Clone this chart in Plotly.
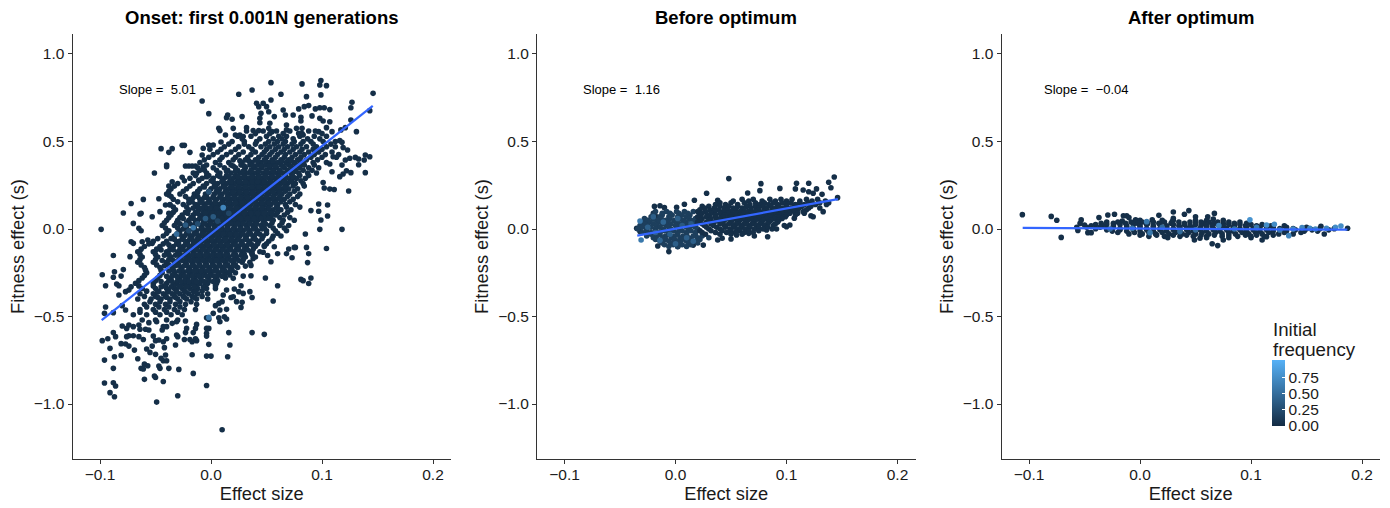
import plotly.graph_objects as go

W, H = 1390, 508

panel_titles = ["Onset: first 0.001N generations", "Before optimum", "After optimum"]
slope_labels = ["Slope =\u00a0\u00a05.01", "Slope =\u00a0\u00a01.16", "Slope =\u00a0\u00a0\u22120.04"]
x_ticks = [-0.1, 0.0, 0.1, 0.2]
y_ticks = [-1.0, -0.5, 0.0, 0.5, 1.0]
legend_ticks = [0.0, 0.25, 0.5, 0.75]
legend_title_lines = ["Initial", "frequency"]
fit_x = [[-0.0985, 0.1457], [-0.0345, 0.1463], [-0.1057, 0.1868]]
fit_y = [[-0.52, 0.703], [-0.038, 0.171], [0.006, -0.004]]

# ---- Onset panel
onset_scatter = [
(-.099,-.002),(-.079,.091),(-.072,.146),(-.061,.169),(-.047,.173),(-.051,.32),(-.045,.459),(-.038,.438),(-.035,.459),(-.04,.366),(-.04,.356),(-.026,.478),(-.024,.478),(-.019,.438),(-.008,.731),(-.002,.659),(.025,.77),(.037,.794),(.054,.836),(.082,.829),(.099,.848),(.098,.823),(.104,.819),(.146,.775),(.063,.77),(.054,.737),(.086,.756),(.099,.766),(.127,.724),(.126,.693),(.143,.676),(.041,.718),(.043,.699),(.047,.718),(.05,.699),(.052,.67),(.045,.661),(.044,.632),(.044,.607),(.015,.651),(.014,.636),(.019,.627),(.028,.642),(.084,.699),(.088,.705),(.094,.686),(.098,.693),(.102,.693),(.107,.682),(.079,.686),(.065,.68),(.067,.651),(.074,.651),(.081,.638),(.091,.646),(.098,.632),(.107,.613),(.101,.617),(.081,.617),(.057,.642),(.126,.623),(.121,.579),(.131,.556),(.117,.566),
(.116,.505),(.118,.495),(.119,.465),(.123,.451),(.121,.394),(.125,.404),(.13,.409),(.133,.4),(.139,.423),(.143,.413),(.138,.394),(.133,.367),(.139,.322),(.118,.365),(.122,.333),(.126,.322),(.116,.299),(.119,.314),(.107,.371),(.11,.413),(.112,.47),(.109,.327),(.101,.265),(.102,.234),(.107,.228),(.111,.226),(.124,.217),(.097,.143),(.105,.137),(.097,.101),(.09,.105),(.099,.051),(.105,.074),(.118,-.002),(.085,-.029),(.098,-.002),(.104,-.111),(.086,-.105),(.076,-.105),
(-.064,.086),(-.063,.09),(-.07,.032),(-.065,.004),(-.063,-.01),(-.072,-.073),(-.07,-.082),(-.062,-.073),(-.057,-.063),(-.053,-.082),(-.053,.07),(-.046,.099),(-.038,.09),(-.041,.137),(-.037,.137),(-.038,.194),(-.038,.246),(-.035,.27),(-.026,.295),(-.023,.36),(-.02,.36),(-.017,.36),(-.014,.36),(-.013,.318),(-.011,.28),(-.007,.356),(-.006,.337),(-.004,.299),(-.008,.423),(-.007,.461),(-.002,.48),(.002,.48),(-.001,.455),(.009,.497),(.007,.575),(.008,.562),(.013,.537),(.02,.575),(.022,.537),(.032,.579),(.026,.537),(.029,.528),(.038,.562),(.043,.562),(.053,.604),(.052,.575),(.055,.556),(.068,.594),(.068,.566),(.077,.575),(.082,.575),(.079,.546),(.083,.537),(.097,.556),(.104,.579),(.109,.556),
(-.088,-.151),(-.073,-.158),(-.098,-.261),(-.087,-.244),(-.079,-.232),(-.088,-.276),(-.081,-.269),(-.095,-.324),(-.085,-.314),(-.083,-.324),(-.083,-.377),(-.077,-.358),(-.074,-.349),(-.072,-.33),(-.095,-.446),(-.096,-.482),(-.08,-.438),(-.077,-.463),(-.088,-.478),(-.08,-.554),(-.088,-.591),(-.086,-.615),(-.093,-.627),(-.098,-.638),(-.091,-.682),(-.081,-.655),(-.077,-.657),(-.074,-.669),(-.087,-.73),(-.081,-.722),(-.096,-.749),(-.088,-.796),(-.096,-.88),(-.088,-.878),(-.086,-.897),(-.091,-.935),(-.087,-.958),(-.049,-.989),(-.03,-.953),(-.004,-.894),(.01,-1.147),(-.043,-.871),(-.06,-.859),(-.051,-.84),(-.05,-.848),(-.016,-.825),(-.029,-.802),(-.038,-.796),(-.047,-.783),(-.046,-.796),(-.063,-.796),(-.061,-.8),(-.06,-.772),(-.057,-.781),(-.066,-.741),(-.045,-.739),(-.043,-.753),(-.04,-.753),(-.041,-.72),(-.05,-.716),(-.055,-.705),(-.058,-.686),(-.069,-.692),(-.042,-.678),(-.053,-.669),(-.032,-.663),(-.017,-.718),(-.004,-.726),(0,-.726),(.015,-.73),(-.002,-.659),(.017,-.663),(.016,-.592),(-.004,-.596),(-.004,-.612),(.037,-.592),(.048,-.602),(-.024,-.631),(-.019,-.631),(-.017,-.644),(-.013,-.638),(-.014,-.627),(-.031,-.606),(-.03,-.615),(-.04,-.627),(-.043,-.644),(-.047,-.634),(-.05,-.638),(-.052,-.612),(-.061,-.631),(-.065,-.615),(-.07,-.61),(-.074,-.61),(-.076,-.615),(-.056,-.577),(-.059,-.573),(-.064,-.573),(-.065,-.549),(-.07,-.558),(-.074,-.549),(-.076,-.568),(-.023,-.592),(-.022,-.568),(-.016,-.592),(-.014,-.568),(-.013,-.545),(-.004,-.568),(-.002,-.568),(-.035,-.539),(-.04,-.558),(-.044,-.577),(-.043,-.558),(-.049,-.53),(-.056,-.535),(-.023,-.526),(-.031,-.53),(-.004,-.507),(-.002,-.516),(.008,-.53),(.007,-.507),(.012,-.501),(.014,-.514),(.002,-.482),(.008,-.463),(.014,-.459),(.004,-.438),(.007,-.425),(.01,-.415),(.011,-.377),(.014,-.349),(.021,-.343),(.018,-.391),(.02,-.387),(.025,-.358),(.029,-.368),(.035,-.358),(.037,-.391),(.023,-.415),(.028,-.419),(.027,-.448),(.056,-.411),(.06,-.324),(.027,-.324),(.049,-.28),(.036,-.267),(.029,-.269),(.031,-.212),(.036,-.208),(.054,-.187),(.087,-.192),(.081,-.288),(.083,-.295),(.09,-.28),(.088,-.311),(.073,-.164),(.068,-.141),(.06,-.141),(.051,-.151),(.047,-.133),(.088,-.141),(.075,-.105),(.07,-.114),(.057,-.101),(.048,-.095),(.037,-.139),(.038,-.168),(.02,-.282),(.017,-.263),
]
onset_core_y = [.56,.53,.50,.47,.44,.41,.38,.35,.32,.29,.26,.23,.20,.17,.14,.11,.08,.05,.02,-.01,-.04,-.07,-.10,-.13,-.16,-.19,-.22,-.25,-.28,-.31,-.34,-.37,-.40,-.43,-.46,-.49,-.52]
onset_core_x = [
[.032,.047,.059,.071,.088,.094],
[.024,.036,.05,.061,.068,.08,.093,.104],
[.019,.03,.041,.052,.06,.067,.075,.083,.09,.101,.112],
[.012,.025,.034,.045,.053,.061,.069,.077,.086,.095,.104],
[.006,.018,.029,.04,.048,.055,.063,.071,.08,.088,.097,.109],
[-.002,.01,.022,.033,.043,.05,.058,.066,.073,.081,.09,.1,.113],
[-.01,.004,.016,.028,.037,.045,.052,.06,.068,.075,.083,.092,.104],
[-.012,.002,.012,.022,.031,.039,.046,.053,.059,.066,.073,.08,.088,.097],
[-.016,-.004,.008,.018,.026,.033,.04,.047,.053,.059,.065,.072,.079,.087,.095],
[-.019,-.008,.002,.012,.02,.027,.034,.04,.046,.052,.058,.064,.07,.077,.085],
[-.03,-.016,-.004,.006,.014,.021,.028,.034,.04,.045,.051,.057,.063,.069,.076,.083],
[-.036,-.022,-.01,0,.008,.016,.022,.028,.034,.04,.046,.052,.058,.064,.07,.078],
[-.04,-.028,-.015,-.005,.003,.01,.017,.023,.029,.035,.04,.046,.052,.058,.064,.071,.08],
[-.034,-.02,-.01,-.002,.005,.012,.018,.024,.03,.035,.041,.047,.053,.059,.066,.074],
[-.037,-.025,-.014,-.006,.001,.007,.013,.019,.025,.03,.036,.042,.048,.054,.06,.067,.076],
[-.032,-.02,-.011,-.004,.002,.008,.014,.02,.026,.031,.037,.043,.049,.056,.063,.072],
[-.036,-.026,-.016,-.008,-.002,.004,.01,.016,.021,.027,.033,.039,.045,.051,.058,.066],
[-.04,-.03,-.02,-.012,-.005,.001,.007,.013,.018,.024,.03,.036,.042,.048,.056,.065,.075],
[-.044,-.033,-.024,-.016,-.009,-.003,.003,.009,.015,.021,.026,.032,.038,.045,.053,.062,.07],
[-.038,-.028,-.02,-.013,-.006,0,.006,.012,.017,.023,.029,.035,.042,.05,.058,.068],
[-.043,-.033,-.024,-.017,-.01,-.004,.002,.008,.014,.02,.026,.032,.039,.047,.056,.063],
[-.052,-.04,-.029,-.021,-.014,-.008,-.002,.004,.01,.016,.022,.028,.035,.043,.052],
[-.06,-.046,-.034,-.025,-.018,-.012,-.006,0,.006,.012,.018,.025,.032,.04,.048],
[-.066,-.052,-.04,-.03,-.022,-.016,-.01,-.004,.002,.008,.014,.021,.028,.036,.044],
[-.062,-.048,-.036,-.027,-.02,-.014,-.008,-.002,.004,.01,.016,.023,.031,.04],
[-.066,-.052,-.04,-.03,-.023,-.017,-.011,-.005,.001,.007,.013,.02,.028,.035],
[-.06,-.046,-.035,-.027,-.02,-.014,-.008,-.002,.004,.01,.017,.024],
[-.058,-.044,-.033,-.025,-.018,-.012,-.006,0,.007,.014,.022],
[-.062,-.048,-.036,-.028,-.021,-.015,-.009,-.002,.005,.013],
[-.068,-.052,-.04,-.031,-.024,-.017,-.01,-.003,.005],
[-.062,-.05,-.04,-.033,-.026,-.019,-.012,-.004,.004],
[-.064,-.052,-.043,-.035,-.028,-.02,-.012,-.003],
[-.066,-.054,-.045,-.037,-.03,-.022,-.013,-.003],
[-.06,-.05,-.041,-.032,-.023,-.013],
[-.064,-.052,-.042,-.033,-.024,-.014],
[-.07,-.058,-.046,-.036,-.026],
[-.062,-.05,-.04,-.03],
]
onset_fill_y = [.545,.515,.485,.455,.425,.395,.365,.335,.305,.275,.245,.215,.185,.155,.125,.095,.065,.035,.005,-.025,-.055,-.085,-.115,-.145,-.175,-.205,-.235,-.265,-.295,-.325,-.355,-.385,-.415,-.445,-.475]
onset_fill_x = [
[.04,.053,.065,.082,.1],
[.028,.044,.056,.064,.074,.087,.098],
[.016,.03,.04,.049,.057,.065,.073,.081,.092,.108],
[.009,.022,.037,.05,.058,.066,.074,.082,.092,.1],
[.002,.014,.025,.036,.046,.053,.06,.067,.076,.084,.093,.103,.115],
[-.006,.008,.02,.031,.04,.048,.055,.063,.07,.078,.086,.096],
[-.004,.008,.018,.027,.035,.042,.049,.056,.063,.07,.077,.084,.093],
[-.01,.005,.015,.024,.03,.036,.043,.05,.056,.062,.069,.076,.083,.091],
[-.014,-.002,.006,.014,.022,.03,.037,.043,.049,.055,.061,.067,.073,.08,.088],
[-.024,-.011,0,.01,.017,.024,.031,.037,.043,.048,.054,.06,.066,.073,.081],
[-.033,-.019,-.007,.003,.011,.018,.025,.031,.037,.042,.048,.054,.06,.067,.074,.084],
[-.038,-.025,-.012,-.002,.005,.013,.019,.025,.031,.037,.043,.049,.055,.061,.067,.075],
[-.036,-.023,-.012,-.004,.002,.008,.015,.021,.027,.032,.038,.044,.05,.056,.062,.069,.078],
[-.03,-.017,-.008,-.001,.004,.01,.016,.022,.027,.033,.039,.045,.051,.057,.063,.071],
[-.034,-.022,-.012,-.005,.001,.005,.011,.017,.023,.028,.034,.04,.046,.052,.059,.068,.08],
[-.034,-.023,-.014,-.007,-.001,.005,.011,.017,.023,.029,.035,.04,.046,.053,.06,.069],
[-.038,-.028,-.018,-.01,-.004,.002,.007,.013,.019,.024,.03,.036,.042,.048,.054,.062,.071],
[-.042,-.031,-.022,-.014,-.007,-.001,.005,.011,.016,.022,.028,.034,.04,.047,.055,.064],
[-.041,-.03,-.022,-.015,-.008,-.002,.004,.01,.015,.021,.027,.033,.04,.048,.056,.066],
[-.04,-.03,-.022,-.015,-.008,-.002,.003,.009,.015,.021,.027,.034,.041,.05,.06],
[-.048,-.036,-.026,-.019,-.012,-.006,0,.006,.012,.018,.024,.031,.038,.046,.055],
[-.056,-.043,-.031,-.023,-.016,-.01,-.004,.002,.008,.014,.02,.027,.034,.042,.05],
[-.063,-.049,-.037,-.028,-.02,-.014,-.008,-.002,.004,.01,.016,.023,.03,.038],
[-.064,-.05,-.038,-.028,-.021,-.015,-.009,-.003,.003,.009,.015,.022,.03,.037],
[-.064,-.05,-.038,-.029,-.022,-.016,-.01,-.004,.002,.008,.014,.021,.029],
[-.063,-.049,-.038,-.029,-.022,-.016,-.01,-.004,.002,.008,.015,.022],
[-.059,-.045,-.034,-.026,-.019,-.013,-.007,-.001,.005,.012,.019],
[-.06,-.046,-.035,-.027,-.02,-.014,-.008,-.001,.006,.012],
[-.065,-.05,-.038,-.03,-.023,-.016,-.009,-.002,.006],
[-.065,-.052,-.042,-.034,-.027,-.02,-.013,-.005,.004],
[-.058,-.047,-.038,-.031,-.024,-.016,-.008],
[-.06,-.05,-.041,-.033,-.025,-.017,-.008],
[-.055,-.046,-.037,-.028,-.018],
[-.058,-.047,-.038,-.028],
[-.064,-.05,-.04,-.03],
]
onset_center_y = [.39,.36,.33,.30,.27,.24,.21,.18,.15,.12,.09,.06,.03,0,-.03,-.06,-.09,-.12,-.15,-.18,-.21,-.24,-.27,-.30,-.33,-.36,-.39]
onset_center_x = [
[.026,.034,.042,.049,.056,.064,.072,.08],
[.02,.03,.038,.045,.052,.058,.065,.072,.08],
[.014,.022,.029,.036,.043,.05,.056,.062,.069,.076],
[.008,.016,.024,.03,.037,.043,.049,.055,.061,.067,.074],
[.002,.01,.018,.025,.031,.037,.042,.048,.054,.06,.066,.072],
[-.006,.004,.012,.019,.025,.031,.037,.043,.049,.055,.061,.067],
[-.012,-.002,.007,.014,.02,.026,.032,.038,.044,.05,.056,.062],
[-.016,-.006,.002,.009,.015,.021,.027,.033,.039,.045,.05,.056,.062],
[-.02,-.01,-.003,.004,.01,.016,.022,.028,.034,.04,.046,.052,.058],
[-.016,-.008,-.001,.005,.011,.017,.023,.029,.034,.04,.046,.052,.06],
[-.021,-.012,-.005,.001,.007,.013,.019,.024,.03,.036,.042,.048,.055],
[-.025,-.016,-.008,-.002,.004,.01,.016,.021,.027,.033,.039,.045,.052],
[-.028,-.019,-.012,-.006,0,.006,.012,.018,.024,.029,.035,.041,.049],
[-.025,-.016,-.009,-.003,.003,.009,.015,.02,.026,.032,.038,.046],
[-.028,-.02,-.013,-.007,-.001,.005,.011,.017,.023,.029,.036,.044],
[-.033,-.025,-.017,-.011,-.005,.001,.007,.013,.019,.025,.032,.04],
[-.038,-.029,-.021,-.015,-.009,-.003,.003,.009,.015,.022,.029,.037],
[-.045,-.034,-.025,-.019,-.013,-.007,-.001,.005,.011,.018,.025,.033],
[-.042,-.032,-.024,-.017,-.011,-.005,.001,.007,.013,.02,.027],
[-.044,-.034,-.026,-.019,-.013,-.007,-.001,.005,.011,.018,.025],
[-.042,-.032,-.024,-.017,-.011,-.005,.001,.007,.013,.02],
[-.038,-.029,-.021,-.015,-.009,-.003,.003,.01,.017],
[-.04,-.031,-.024,-.017,-.011,-.004,.003,.01],
[-.045,-.035,-.027,-.02,-.013,-.006,.002],
[-.045,-.036,-.029,-.022,-.015,-.007],
[-.048,-.039,-.031,-.023,-.014],
[-.048,-.04,-.032,-.024,-.015],
]
onset_bright = [(-.016,.007,.6),(-.031,-.029,.5),(.011,.122,.7),(.002,.07,.35),(-.005,.06,.35),(-.023,.023,.35),(-.002,.213,.3),(-.002,-.505,.6),(-.012,.03,.25),(.006,.045,.2),(.016,.09,.2),(-.02,-.01,.2)]

# ---- Before-optimum panel
before_scatter = [
(.048,.288),(.077,.259),(.109,.261),(.12,.261),(.138,.267),(.143,.297),(.14,.236),(.028,.204),(.017,.164),(.038,.164),(.008,.141),(.024,.129),(.065,.206),(.076,.219),(.094,.232),(.108,.229),(.115,.223),(.12,.213),(.127,.229),(.124,.204),(.132,.198),(.146,.179),(.138,.15),(.133,.099),(.122,.076),(.124,.07),(.116,.09),(.107,.061),(.103,.023),(.1,.013),(.091,0),(.082,-.006),(.083,-.044),(.071,-.04),(.066,-.025),(.055,-.034),(.05,-.057),(.042,-.053),(.038,-.063),(.025,-.092),(.016,-.092),(-.006,-.129),(-.016,-.097),(.002,-.101),(-.035,.004),(-.027,.051),(-.032,-.015),(-.019,.129),(-.014,.133),(-.01,.122),(.001,.124),(-.02,.089),(-.017,.07),
]
before_dark_y = [.17,.16,.15,.14,.13,.12,.11,.10,.09,.08,.07,.06,.05,.04,.03,.02,.01,0,-.01,-.02,-.03]
before_dark_x = [
[.06,.07,.085,.095,.105,.118,.128],
[.052,.066,.078,.09,.1,.112,.123,.135],
[.04,.05,.062,.072,.08,.088,.096,.104,.112,.12,.13],
[.036,.045,.056,.067,.076,.084,.092,.1,.108,.116,.126,.136],
[.03,.04,.048,.056,.064,.072,.079,.086,.093,.1,.107,.114,.122],
[.026,.035,.044,.052,.06,.068,.075,.082,.09,.097,.104,.111,.12,.13],
[.022,.031,.039,.047,.054,.061,.068,.075,.082,.089,.096,.103,.11,.118],
[.02,.027,.035,.043,.05,.058,.065,.072,.079,.086,.093,.1,.107,.115],
[.024,.032,.04,.047,.054,.061,.068,.075,.082,.089,.096,.103,.11],
[.022,.029,.036,.044,.051,.058,.065,.072,.079,.086,.093,.1,.108],
[.02,.028,.036,.043,.05,.057,.064,.071,.078,.085,.092,.099],
[.024,.032,.04,.047,.054,.061,.068,.075,.082,.089,.096],
[.022,.03,.037,.044,.051,.058,.065,.072,.079,.086,.093],
[.02,.028,.035,.042,.05,.056,.063,.07,.077,.084,.092],
[.024,.032,.04,.048,.055,.062,.069,.076,.083,.09],
[.026,.034,.044,.052,.059,.066,.073,.08,.088,.098],
[.028,.037,.045,.053,.06,.067,.075,.083],
[.03,.04,.049,.056,.063,.071,.079,.087],
[.022,.032,.042,.05,.058,.066,.075],
[.024,.036,.046,.054,.062,.07],
[.027,.04,.05,.06],
]
before_mid_y = [.10,.09,.08,.07,.06,.05,.04,.03,.02,.01,0,-.01,-.02,-.03,-.04,-.05,-.06,-.07,-.08,-.09,-.10]
before_mid_x = [
[-.018,-.008,.001,.008,.016],
[-.012,-.005,.003,.011],
[-.02,-.012,-.003,.006,.013],
[-.022,-.014,-.006,.002,.01],
[-.028,-.02,-.013,-.005,.004,.012,.018],
[-.025,-.017,-.009,-.001,.007,.014],
[-.03,-.023,-.015,-.007,.001,.009,.016],
[-.028,-.02,-.012,-.004,.004,.011,.018],
[-.032,-.025,-.017,-.008,0,.008,.015],
[-.03,-.022,-.014,-.006,.002,.01,.018],
[-.034,-.026,-.018,-.011,-.004,.004,.012,.02],
[-.026,-.018,-.01,-.002,.006,.014],
[-.03,-.022,-.014,-.006,.002,.01,.018],
[-.022,-.014,-.006,.002,.01,.018],
[-.026,-.017,-.009,-.001,.007,.016,.024],
[-.02,-.012,-.004,.004,.012,.02,.03],
[-.018,-.009,-.001,.006,.014,.022],
[-.014,-.006,.002,.01,.018],
[-.012,-.004,.004,.012,.02],
[-.01,-.002,.006,.014],
[-.006,.002,.01],
]
before_bright = [(-.032,.046,.6),(-.031,-.063,.6),(-.011,.04,.45),(-.018,-.02,.4),(.002,.06,.4),(.01,-.05,.4),(.006,.02,.35),(-.005,-.03,.4),(.014,.03,.35),(-.025,.01,.4),(-.02,.07,.4),(.016,-.07,.4),(-.014,-.065,.45),(.0,-.085,.4)]

# ---- After-optimum panel
after_scatter = [
(-.106,.082),(-.08,.072),(-.075,.05),(-.071,-.048),(-.057,.01),(-.056,-.008),(-.053,.052),(-.054,.032),(-.05,.023),(-.047,-.021),(-.044,-.021),(-.037,.065),(-.029,.08),(-.023,.084),(-.015,.076),(-.012,.076),(-.01,.065),(-.016,.046),(-.004,.052),(-.004,.038),(.017,.078),(.03,.097),(.044,.105),(.04,.084),(.067,.089),(.05,.07),(.061,.07),(.066,.057),(.03,.061),(.029,.042),(.011,.052),(.065,-.084),(.07,-.095),(.049,-.063),(.054,-.053),(.075,-.063),(.11,-.063),(.114,-.044),(.166,-.029),(.163,.015),(.187,.004),
]
after_dark_y = [.05,.04,.033,.025,.018,.01,.002,-.005,-.012,-.02,-.028,-.035,-.042,-.05]
after_dark_x = [
[0,.02,.03,.05,.06,.075],
[-.03,-.02,-.008,.002,.012,.022,.035,.045,.055,.062,.07,.08,.09],
[-.035,-.024,-.013,-.002,.007,.017,.028,.04,.05,.058,.066,.075,.085,.096],
[-.04,-.03,-.018,-.006,.006,.018,.03,.04,.05,.06,.07,.08,.09,.1,.11],
[-.044,-.034,-.024,-.012,0,.012,.024,.035,.045,.055,.065,.075,.085,.095,.105,.118,.13],
[-.048,-.036,-.024,-.012,0,.012,.024,.036,.048,.06,.072,.084,.096,.108,.12,.132,.15],
[-.04,-.03,-.018,-.006,.006,.018,.03,.042,.054,.066,.078,.09,.102,.114,.126,.138,.15,.162,.175],
[-.03,-.018,-.006,.006,.018,.03,.042,.054,.066,.078,.09,.102,.114,.126,.14,.155,.17],
[-.025,-.012,0,.012,.024,.036,.048,.06,.072,.084,.096,.108,.12,.132,.148,.16],
[-.02,-.005,.008,.02,.032,.044,.056,.068,.08,.092,.104,.116,.13,.145],
[-.01,.002,.014,.026,.038,.05,.062,.074,.086,.098,.11,.125,.138],
[0,.015,.03,.042,.055,.067,.08,.095,.105,.12],
[.008,.022,.036,.048,.06,.074,.088,.1,.112],
[.025,.06,.08,.1],
]
after_bright = [(.099,.053,.8),(.006,.042,.6),(.009,-.021,.6),(.071,.019,.7),(.114,.023,.75),(.121,.027,.75),(.105,.009,.6),(.126,-.006,.6),(.134,-.038,.7),(.146,.008,.7),(.153,.004,.7),(.158,0,.7),(.168,.004,.7),(.176,.009,.75),(.181,.017,.75),(.138,0,.7),(-.027,0,.5),(-.007,.004,.55),(.036,-.015,.5),(.02,.01,.5),(.05,-.005,.5),(.085,0,.55)]

DARK_F, MID_F = 0.03, 0.15


def rows(ys, xss):
    return [(x, y) for y, xs in zip(ys, xss) for x in xs]


def assemble(groups):
    xs, ys, fs = [], [], []
    for pts, f in groups:
        for p in pts:
            xs.append(p[0])
            ys.append(p[1])
            fs.append(p[2] if len(p) == 3 else f)
    return xs, ys, fs


panels = [
    assemble([(onset_scatter, DARK_F), (rows(onset_core_y, onset_core_x), DARK_F), (rows(onset_fill_y, onset_fill_x), DARK_F), (rows(onset_center_y, onset_center_x), DARK_F), (onset_bright, None)]),
    assemble([(before_scatter, DARK_F), (rows(before_mid_y, before_mid_x), MID_F), (before_bright, None), (rows(before_dark_y, before_dark_x), DARK_F)]),
    assemble([(after_scatter, DARK_F), (rows(after_dark_y, after_dark_x), DARK_F), (after_bright, None)]),
]

fig = go.Figure()
INK = "#1a1a1a"
AXIS = "#333333"
lefts = [72.5, 537, 1001.5]
RIGHT_LEN = 378.5
X_RANGE = [-0.1248, 0.2162]
Y_RANGE = [-1.314, 1.114]

annotations = []
for i, (xs, ys, fs) in enumerate(panels):
    n = "" if i == 0 else str(i + 1)
    fig.add_trace(go.Scatter(x=xs, y=ys, mode="markers", xaxis="x" + n, yaxis="y" + n, showlegend=False,
                             marker=dict(size=5.6, color=fs, coloraxis="coloraxis", line=dict(width=0))))
    fig.add_trace(go.Scatter(x=fit_x[i], y=fit_y[i], mode="lines", xaxis="x" + n, yaxis="y" + n, showlegend=False,
                             line=dict(color="#3366FF", width=2.2)))
    common = dict(showline=True, linecolor=AXIS, linewidth=1, ticks="outside", ticklen=4, tickcolor=AXIS,
                  tickwidth=1, showgrid=False, zeroline=False, tickformat=".1f",
                  tickfont=dict(family="Liberation Sans", size=15.5, color=INK), automargin=False)
    fig.update_layout({
        "xaxis" + n: dict(common, domain=[lefts[i] / W, (lefts[i] + RIGHT_LEN) / W], range=X_RANGE,
                          tickvals=x_ticks, anchor="y" + n, ticklabelstandoff=-3,
                          title=dict(text="Effect size", standoff=3,
                                     font=dict(family="Liberation Sans", size=18.3, color=INK))),
        "yaxis" + n: dict(common, domain=[(H - 459) / H, (H - 34) / H], range=Y_RANGE,
                          tickvals=y_ticks, anchor="x" + n,
                          title=dict(text="Fitness effect (s)", standoff=4,
                                     font=dict(family="Liberation Sans", size=18.3, color=INK))),
    })
    annotations.append(dict(text="<b>%s</b>" % panel_titles[i], xref="paper", yref="paper",
                            x=(lefts[i] + RIGHT_LEN / 2) / W, y=(H - 17) / H, xanchor="center", yanchor="middle",
                            showarrow=False, font=dict(family="Liberation Sans", size=18.5, color="black")))
    annotations.append(dict(text=slope_labels[i], xref="x" + n, yref="y" + n, x=-0.0485, y=0.797,
                            xanchor="center", yanchor="middle", showarrow=False,
                            font=dict(family="Liberation Sans", size=13, color="black")))

for line, py in zip(legend_title_lines, [329, 349]):
    annotations.append(dict(text=line, xref="paper", yref="paper", x=1271.5 / W, y=(H - py) / H,
                            xanchor="left", yanchor="middle", showarrow=False, xshift=-1,
                            font=dict(family="Liberation Sans", size=18.7, color=INK)))

fig.update_layout(
    width=W, height=H, margin=dict(l=0, r=0, t=0, b=0), paper_bgcolor="white", plot_bgcolor="white",
    annotations=annotations,
    coloraxis=dict(cmin=0, cmax=1.03, colorscale=[[0, "#132B43"], [1, "#56B1F7"]],
                   colorbar=dict(lenmode="pixels", len=66, thicknessmode="pixels", thickness=13,
                                 x=1272 / W, xanchor="left", y=(H - 426) / H, yanchor="bottom",
                                 xpad=0, ypad=0, outlinewidth=0, tickvals=legend_ticks, tickformat=".2f",
                                 ticks="inside", ticklen=3, tickcolor="white", tickwidth=1,
                                 tickfont=dict(family="Liberation Sans", size=15.5, color=INK))),
)
fig.write_html("out.html", config={"displayModeBar": False}, post_script="document.body.style.margin='0';")
